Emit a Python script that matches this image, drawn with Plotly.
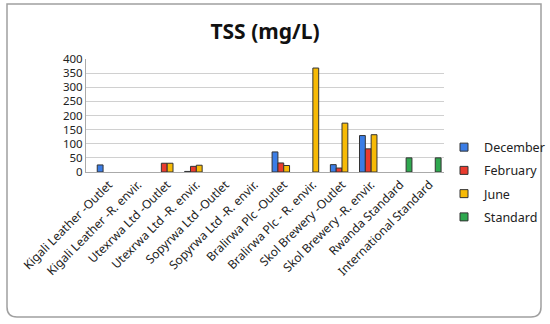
import plotly.graph_objects as go

categories = ["Kigali Leather -Outlet", "Kigali Leather -R. envir.", "Utexrwa Ltd -Outlet",
              "Utexrwa Ltd -R. envir.", "Sopyrwa Ltd -Outlet", "Sopyrwa Ltd -R. envir.",
              "Bralirwa Plc -Outlet", "Bralirwa Plc - R. envir.", "Skol Brewery -Outlet",
              "Skol Brewery -R. envir.", "Rwanda Standard", "International Standard"]
december = [25, None, None, 2, None, None, 71, None, 26, 129, None, None]
february = [None, None, 31, 20, None, None, 32, None, 14, 82, None, None]
june = [None, None, 31, 24, None, None, 23, 368, 173, 132, None, None]
standard = [None, None, None, None, None, None, None, None, None, None, 50, 50]

series = [("December", december, "#3B7DE6"), ("February", february, "#EA3B2E"),
          ("June", june, "#F7BA06"), ("Standard", standard, "#2FA84F")]

fig = go.Figure()
for name, vals, col in series:
    fig.add_trace(go.Bar(x=categories, y=vals, name=name, marker_color=col,
                         marker_line_color="#333333", marker_line_width=1,
                         showlegend=False))
for name, vals, col in series:
    fig.add_trace(go.Scatter(x=[categories[0]], y=[None], mode="markers", name=name,
                             legendgroup=name,
                             marker=dict(symbol="square", size=8, color=col,
                                         line=dict(color="#333333", width=1))))

font = "Noto Sans"
fig.update_layout(
    width=550, height=324,
    margin=dict(l=86, r=106, t=59, b=152, autoexpand=False),
    paper_bgcolor="white", plot_bgcolor="white",
    barmode="group", bargap=0.2, bargroupgap=0,
    title=dict(text="<b>TSS (mg/L)</b>", x=0.5, xref="paper", xanchor="center",
               y=1 - 32 / 324, yanchor="middle", font=dict(family=font, size=21, color="#111")),
    font=dict(family=font, size=12, color="#222"),
    legend=dict(x=(444 - 86) / 358, xanchor="left", y=(172 - 182) / 113, yanchor="middle",
                yref="paper", font=dict(size=12.5, color="#222"), tracegroupgap=4,
                itemwidth=30, traceorder="grouped", bgcolor="rgba(0,0,0,0)"),
    showlegend=True,
)
fig.update_yaxes(range=[0, 400], dtick=50, showgrid=True, gridcolor="#D0D0D0", gridwidth=1,
                 showline=True, linecolor="#AAAAAA", linewidth=1, ticks="", automargin=False,
                 tickfont=dict(size=11.5, color="#222"), zeroline=False)
fig.update_xaxes(tickangle=-45, showline=True, linecolor="#AAAAAA", linewidth=1, ticks="",
                 automargin=False, tickfont=dict(size=12, color="#222"), mirror=False)

# outer rounded border
px0, px1, py0, py1 = 86, 444, 172, 59
def X(p): return (p - px0) / (px1 - px0)
def Y(p): return (py0 - p) / (py0 - py1)
l, r, t, b, rad = 7, 541, 4, 317, 10
path = (f"M {X(l+rad)} {Y(t)} L {X(r)} {Y(t)} L {X(r)} {Y(b-rad)} Q {X(r)} {Y(b)} {X(r-rad)} {Y(b)} "
        f"L {X(l+rad)} {Y(b)} Q {X(l)} {Y(b)} {X(l)} {Y(b-rad)} L {X(l)} {Y(t)} Z")
fig.add_shape(type="path", xref="paper", yref="paper", path=path,
              line=dict(color="#A0A0A0", width=1.5), layer="below")

fig.write_html("out.html", config={"displayModeBar": False},
               post_script="document.body.style.margin='0';")
